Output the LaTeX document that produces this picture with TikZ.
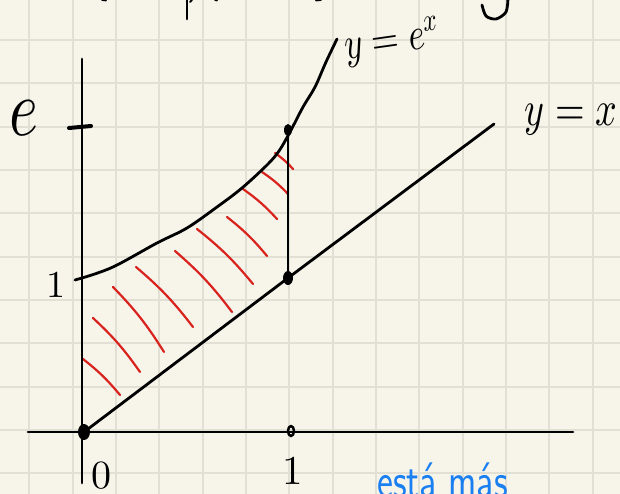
\documentclass[tikz,border=0pt]{standalone}
\usepackage{fontspec}
\usepackage{unicode-math}
\definecolor{paper}{HTML}{F7F5EA}
\definecolor{gridc}{HTML}{E2E0D4}
\definecolor{hatch}{HTML}{D8231E}
\definecolor{pen}{HTML}{1A80F2}
\begin{document}
\begin{tikzpicture}[x=1pt, y=-1pt, line cap=round, line join=round,
    ink/.style={line width=2.8pt, black},
    hatchline/.style={line width=2.2pt, hatch},
    gridline/.style={line width=2.2pt, gridc},
    hand/.style={inner sep=0pt, font=\fontsize{38}{40}\selectfont}]
    \fill[paper] (0,0) rectangle (620,494);
    \useasboundingbox (0,0) rectangle (620,494);
    \foreach \i in {0,...,13} { \draw[gridline] ({29.3+43.33*\i},0) -- ++(0,494); }
    \foreach \j in {-1,...,10} { \draw[gridline] (0,{40+43.33*\j}) -- ++(620,0); }
    % points
    \coordinate (O) at (84,432);
    \coordinate (A) at (288,278);
    \coordinate (B) at (288,130);
    \coordinate (E0) at (82,278);
    \coordinate (X1) at (291,431);
    \coordinate (Xend) at (494,124);
    % hatching
    \foreach \a/\b/\c/\d in {83/359/120/395, 93/318/140/372, 113/287/164/352, 136/267/193/327,
        175/251/232/312, 197/229/253/284, 227/217/267/256, 243/189/277/219, 262/172/288/194, 275/153/293/169}
      { \draw[hatchline] (\a,\b) to[bend left=6] (\c,\d); }
    % axes and ticks
    \draw[ink] (28,432) -- (573,432);
    \draw[ink] (82,59) -- (82,483);
    \draw[ink, line width=4pt] (69,128) -- (91,126);
    \draw[ink] (75,280) -- (E0);
    % graphs
    \draw[ink] (O) -- (A) -- (Xend);
    \draw[ink] (A) -- (B);
    \draw[ink] plot[smooth, tension=0.55] coordinates {(E0) (113,267) (157,243) (187,228) (217,207)
        (242,188) (267,165) (279,151) (290,132) (303,107) (315,87) (326,62) (337,39)};
    \fill (O) ellipse (6 and 8);
    \fill (A) ellipse (5 and 7);
    \fill (B) ellipse (4 and 6);
    \draw[ink, line width=2.5pt] (X1) ellipse (3 and 5);
    % labels
    \node[hand, font=\fontsize{62}{62}\selectfont, yscale=1.3] (le) at (24,118) {$e$};
    \node[hand] (l1) at (56,285) {$1$};
    \node[hand, font=\fontsize{40}{40}\selectfont] (l0) at (101,476) {$0$};
    \node[hand, font=\fontsize{41}{41}\selectfont] (lx1) at (293,471) {$1$};
    \node[hand, yscale=1.3] (lyx) at (571,120) {$y=x$};
    \node[hand, font=\fontsize{35}{36}\selectfont, rotate=8, yscale=1.3] (lyex) at (392,42) {$y=e^x$};
    \node[hand, pen, font=\sffamily\fontsize{50}{50}\selectfont, anchor=base west, xscale=0.76] (nota) at (377,497) {está más};
    % cut-off writing at the top
    \draw[ink] (187,-2) -- (187,19);
    \draw[ink, line width=2pt] (190,2) -- (192,0);
    \draw[ink, line width=1.8pt] (102,0) -- (106,0.5);
    \draw[ink, line width=1.8pt] (215,0) -- (217,0.5);
    \draw[ink, line width=1.8pt] (316,0.5) -- (321,0);
    \draw[ink] plot[smooth] coordinates {(508,-2) (506,12) (496,19) (486,16) (482,5)};
  \end{tikzpicture}
\end{document}
